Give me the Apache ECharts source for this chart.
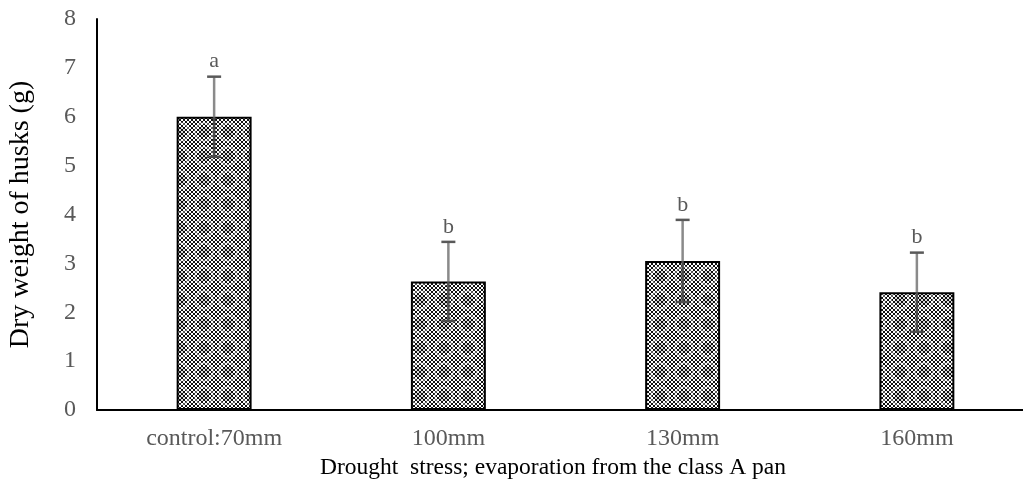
<!DOCTYPE html>
<html>
<head>
<meta charset="utf-8">
<script src="https://cdn.jsdelivr.net/npm/echarts@6/dist/echarts.min.js"></script>
<style>
html, body { margin: 0; padding: 0; background: #fff; }
#main { width: 1023px; height: 488px; }
</style>
</head>
<body>
<div id="main"></div>
<script>
var categories = ['control:70mm', '100mm', '130mm', '160mm'];
var values = [6.0, 2.63, 3.05, 2.41];
var errors = [0.82, 0.81, 0.84, 0.81];
var letters = ['a', 'b', 'b', 'b'];
var yTicks = [0, 1, 2, 3, 4, 5, 6, 7, 8];

// 填充图案 (交叉网纹 + 圆形花纹)
function makePattern() {
    var size = 24;
    var c = document.createElement('canvas');
    c.width = size;
    c.height = size;
    var ctx = c.getContext('2d');
    ctx.fillStyle = '#fff';
    ctx.fillRect(0, 0, size, size);
    ctx.strokeStyle = '#111';
    ctx.lineWidth = 1;
    ctx.beginPath();
    for (var i = -size; i <= size * 2; i += 4) {
        ctx.moveTo(i, 0);
        ctx.lineTo(i + size, size);
        ctx.moveTo(i, size);
        ctx.lineTo(i + size, 0);
    }
    ctx.stroke();
    // 圆环
    ctx.strokeStyle = 'rgba(255,255,255,0.35)';
    ctx.lineWidth = 2;
    ctx.beginPath();
    ctx.arc(12, 12, 9, 0, Math.PI * 2);
    ctx.stroke();
    ctx.fillStyle = 'rgba(0,0,0,0.15)';
    ctx.fillRect(7, 7, 10, 10);
    return c;
}

var myChart = echarts.init(document.getElementById('main'));

var serif = '"Liberation Serif", "Times New Roman", serif';

option = {
    animation: false,
    backgroundColor: '#fff',
    grid: {
        left: 97,
        width: 937,
        top: 19,
        bottom: 78,
        outerBoundsMode: 'none'
    },
    xAxis: {
        type: 'category',
        data: categories,
        name: 'Drought  stress; evaporation from the class A pan',
        nameLocation: 'middle',
        nameGap: 45,
        nameTextStyle: {
            color: '#000',
            fontFamily: serif,
            fontSize: 23.5,
            padding: [0, 25, 0, 0]
        },
        axisLine: { lineStyle: { color: '#000', width: 2 } },
        axisTick: { show: false },
        axisLabel: {
            color: '#595959',
            fontFamily: serif,
            fontSize: 24,
            margin: 17
        }
    },
    yAxis: {
        type: 'value',
        min: yTicks[0],
        max: yTicks[yTicks.length - 1],
        interval: 1,
        name: 'Dry weight of husks (g)',
        nameLocation: 'middle',
        nameGap: 62,
        nameTextStyle: {
            color: '#000',
            fontFamily: serif,
            fontSize: 28
        },
        axisLine: { show: true, lineStyle: { color: '#000', width: 2 } },
        axisTick: { show: false },
        splitLine: { show: false },
        axisLabel: {
            color: '#595959',
            fontFamily: serif,
            fontSize: 24,
            margin: 21
        }
    },
    series: [{
        type: 'bar',
        data: values,
        barWidth: '32%',
        itemStyle: {
            color: { image: makePattern(), repeat: 'repeat' },
            borderColor: '#000',
            borderWidth: 2
        }
    }, {
        type: 'custom',
        data: values.map(function (v, i) { return [i, v, errors[i]]; }),
        z: 10,
        renderItem: function (params, api) {
            var x = api.value(0);
            var v = api.value(1);
            var e = api.value(2);
            var hi = api.coord([x, v + e]);
            var mid = api.coord([x, v]);
            var lo = api.coord([x, v - e]);
            var cap = 7;
            return {
                type: 'group',
                children: [{
                    type: 'line',
                    shape: { x1: hi[0], y1: hi[1], x2: mid[0], y2: mid[1] },
                    style: { stroke: '#8a8a8a', lineWidth: 2.5 }
                }, {
                    type: 'line',
                    shape: { x1: mid[0], y1: mid[1], x2: lo[0], y2: lo[1] },
                    style: { stroke: '#4d4d4d', lineWidth: 2.5 }
                }, {
                    type: 'line',
                    shape: { x1: hi[0] - cap, y1: hi[1], x2: hi[0] + cap, y2: hi[1] },
                    style: { stroke: '#595959', lineWidth: 2.5 }
                }, {
                    type: 'line',
                    shape: { x1: lo[0] - cap, y1: lo[1], x2: lo[0] + cap, y2: lo[1] },
                    style: { stroke: '#4d4d4d', lineWidth: 2.5 }
                }, {
                    type: 'text',
                    x: hi[0],
                    y: hi[1] - 15,
                    style: {
                        text: letters[params.dataIndex],
                        fill: '#595959',
                        font: '22px ' + serif,
                        align: 'center',
                        verticalAlign: 'middle'
                    }
                }]
            };
        }
    }]
};

myChart.setOption(option);
</script>
</body>
</html>
